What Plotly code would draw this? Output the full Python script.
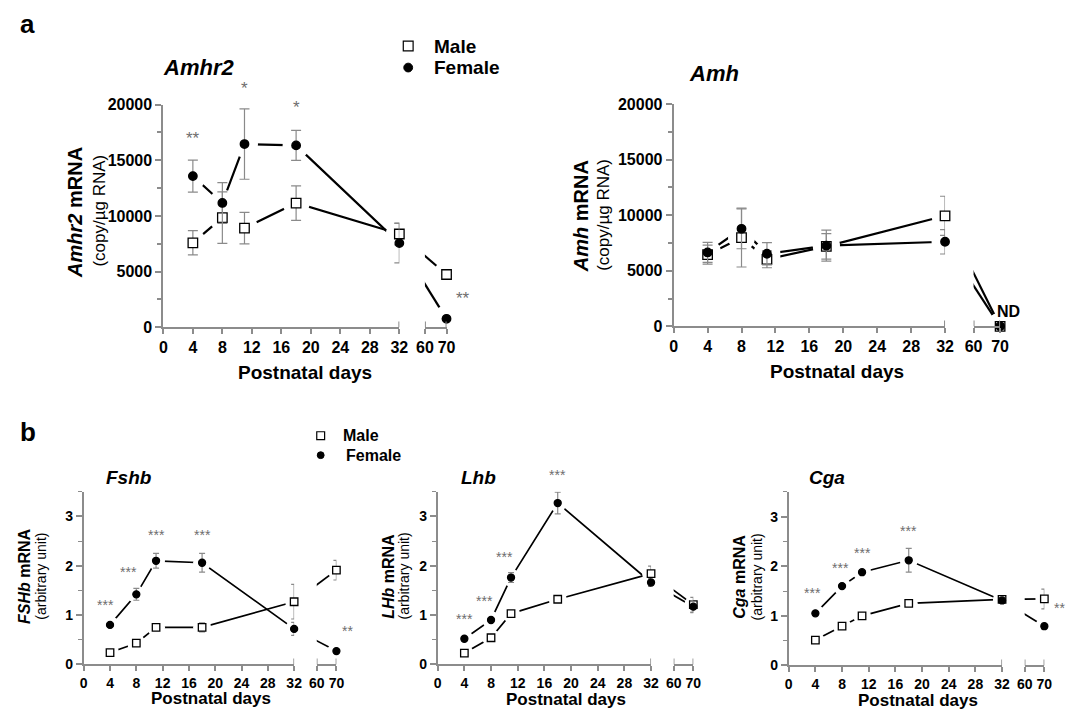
import plotly.graph_objects as go

W, H = 1074, 719
FONT = "Liberation Sans, Arial, sans-serif"
GREY = "#8c8c8c"
ERRC = "#8a8a8a"
STARC = "#6e6e6e"

# ---------------- data ----------------
days = [4, 8, 11, 18, 32, 70]
xticks_main = [0, 4, 8, 12, 16, 20, 24, 28, 32]
xticks_late = [60, 70]

amhr2_male = [7590, 9850, 8910, 11160, 8380, 4740]
amhr2_male_err = [1090, 2320, 1410, 1550, 970, 0]
amhr2_fem = [13580, 11170, 16460, 16340, 7560, 760]
amhr2_fem_err = [1440, 1830, 3160, 1350, 1770, 0]

amh_male = [6450, 7990, 6030, 7200, 9950, 0]
amh_male_err = [850, 2650, 760, 1150, 1760, 0]
amh_fem = [6650, 8780, 6530, 7260, 7610, 0]
amh_fem_err = [900, 1800, 1000, 1400, 1100, 0]

fshb_male = [0.24, 0.43, 0.75, 0.75, 1.27, 1.91]
fshb_male_err = [0, 0, 0.05, 0.09, 0.35, 0.20]
fshb_fem = [0.80, 1.42, 2.10, 2.06, 0.72, 0.27]
fshb_fem_err = [0, 0.12, 0.15, 0.19, 0.13, 0]

lhb_male = [0.23, 0.54, 1.03, 1.32, 1.84, 1.21]
lhb_male_err = [0, 0, 0, 0, 0.15, 0.15]
lhb_fem = [0.52, 0.90, 1.76, 3.27, 1.66, 1.17]
lhb_fem_err = [0, 0, 0.10, 0.22, 0.08, 0.12]

cga_male = [0.51, 0.79, 1.00, 1.25, 1.33, 1.34]
cga_male_err = [0, 0, 0, 0, 0.05, 0.20]
cga_fem = [1.05, 1.60, 1.88, 2.12, 1.31, 0.79]
cga_fem_err = [0, 0, 0, 0.24, 0.05, 0.06]

# significance marks (on female series): day, text
amhr2_stars = [(4, "**"), (11, "*"), (18, "*"), (70, "**")]
amh_stars = []
fshb_stars = [(4, "***"), (8, "***"), (11, "***"), (18, "***"), (70, "**")]
lhb_stars = [(4, "***"), (8, "***"), (11, "***"), (18, "***")]
cga_stars = [(4, "***"), (8, "***"), (11, "***"), (18, "***"), (70, "**")]

# ---------------- panel geometry (pixels) ----------------
panels = [
    dict(male=amhr2_male, male_err=amhr2_male_err, fem=amhr2_fem, fem_err=amhr2_fem_err,
         stars=amhr2_stars, star_off=[(0, 10), (0, 9), (0, 11), (7, 9)],
         ymax=20000, dtick=5000, minor=2500,
         px_y=157, px32=397, px60=423, px70=445, py0=327, pytop=99, big=True,
         title="<i>Amhr2</i>", title_xy=(193, 61),
         ylab1="<b><i>Amhr2</i> mRNA</b>", ylab1_xy=(67, 209),
         ylab2="(copy/µg RNA)", ylab2_xy=(92, 207),
         xlab_xy=(301, 373)),
    dict(male=amh_male, male_err=amh_male_err, fem=amh_fem, fem_err=amh_fem_err,
         stars=amh_stars, star_off=[],
         ymax=20000, dtick=5000, minor=2500,
         px_y=676, px32=952, px60=981, px70=1008, py0=326, pytop=98.5, big=True,
         title="<i>Amh</i>", title_xy=(717, 67),
         ylab1="<b><i>Amh</i> mRNA</b>", ylab1_xy=(582, 213),
         ylab2="(copy/µg RNA)", ylab2_xy=(605, 212),
         xlab_xy=(842, 372)),
    dict(male=fshb_male, male_err=fshb_male_err, fem=fshb_fem, fem_err=fshb_fem_err,
         stars=fshb_stars, star_off=[(-5, 10), (-8, 6), (0, 8), (0, 8), (4, 10)],
         ymax=3.5, dtick=1, minor=0.5,
         px_y=76, px32=290, px60=313, px70=333, py0=672.3, pytop=495.4, big=False,
         title="<i>Fshb</i>", title_xy=(122, 481),
         ylab1="<b><i>FSHb</i> mRNA</b>", ylab1_xy=(16, 582),
         ylab2="(arbitrary unit)", ylab2_xy=(33, 582),
         xlab_xy=(205, 707)),
    dict(male=lhb_male, male_err=lhb_male_err, fem=lhb_fem, fem_err=lhb_fem_err,
         stars=lhb_stars, star_off=[(0, 10), (-7, 9), (-7, 6), (0, 7)],
         ymax=3.5, dtick=1, minor=0.5,
         px_y=436, px32=653, px60=676, px70=696, py0=672.3, pytop=495.4, big=False,
         title="<i>Lhb</i>", title_xy=(477, 481),
         ylab1="<b><i>LHb</i> mRNA</b>", ylab1_xy=(386, 582),
         ylab2="(arbitrary unit)", ylab2_xy=(402, 582),
         xlab_xy=(566, 708)),
    dict(male=cga_male, male_err=cga_male_err, fem=cga_fem, fem_err=cga_fem_err,
         stars=cga_stars, star_off=[(-3, 10), (-2, 8), (0, 9), (0, 7), (8, 5)],
         ymax=3.5, dtick=1, minor=0.5,
         px_y=793, px32=1010, px60=1033, px70=1053, py0=673.3, pytop=495.6, big=False,
         title="<i>Cga</i>", title_xy=(832, 481),
         ylab1="<b><i>Cga</i> mRNA</b>", ylab1_xy=(743, 583),
         ylab2="(arbitrary unit)", ylab2_xy=(761, 583),
         xlab_xy=(924, 709)),
]


def px2x(px):
    return px / W


def px2y(py):
    return 1 - py / H


def xname(n):
    return "x" if n == 1 else f"x{n}"


def yname(n):
    return "y" if n == 1 else f"y{n}"


def xkey(n):
    return "xaxis" if n == 1 else f"xaxis{n}"


def ykey(n):
    return "yaxis" if n == 1 else f"yaxis{n}"


fig = go.Figure()
layout = {}
shapes = []
annotations = []

for i, p in enumerate(panels):
    nm, nr, ny = 2 * i + 1, 2 * i + 2, i + 1
    big = p["big"]
    lw_ax = 2 if big else 1.6
    lw_line = 2.2 if big else 1.7
    sq_size = 9.5 if big else 7.5
    ci_size = 8.5 if big else 7
    halo = 27 if big else 18
    capw = 5 if big else 3
    tick_size = 16 if big else 14
    ydom = [px2y(p["py0"]), px2y(p["pytop"])]
    ypx_h = p["py0"] - p["pytop"]

    tickfont = dict(family=FONT, size=tick_size, color="black", weight=700)
    layout[xkey(nm)] = dict(domain=[px2x(p["px_y"]), px2x(p["px32"])], range=[0, 32],
                            anchor=yname(ny), tickmode="array", tickvals=xticks_main,
                            ticks="outside", ticklen=5, tickwidth=lw_ax, tickcolor=GREY,
                            showline=True, linecolor=GREY, linewidth=lw_ax,
                            showgrid=False, zeroline=False, tickfont=tickfont)
    layout[xkey(nr)] = dict(domain=[px2x(p["px60"]), px2x(p["px70"])], range=[60, 70],
                            anchor=yname(ny), tickmode="array", tickvals=xticks_late,
                            ticks="outside", ticklen=5, tickwidth=lw_ax, tickcolor=GREY,
                            showline=True, linecolor=GREY, linewidth=lw_ax,
                            showgrid=False, zeroline=False, tickfont=tickfont)
    layout[ykey(ny)] = dict(domain=ydom, range=[0, p["ymax"]], anchor=xname(nm),
                            tick0=0, dtick=p["dtick"], tickformat="d" if big else "",
                            ticks="outside", ticklen=6, tickwidth=lw_ax, tickcolor=GREY,
                            showline=True, linecolor=GREY, linewidth=lw_ax,
                            showgrid=False, zeroline=False, tickfont=tickfont,
                            minor=dict(dtick=p["minor"], tick0=0, ticks="outside", ticklen=4,
                                       tickwidth=lw_ax * 0.8, tickcolor=GREY, showgrid=False))

    cap_up = 6 / ypx_h
    for xr, xv in [(xname(nm), 32), (xname(nr), 60), (xname(nr), 70)]:
        shapes.append(dict(type="line", xref=xr, yref=f"{yname(ny)} domain",
                           x0=xv, x1=xv, y0=0, y1=cap_up,
                           line=dict(color=GREY, width=lw_ax)))

    # virtual position of day 32 in the right-segment axis coordinates
    x32_virtual = 60 - (p["px60"] - p["px32"]) * 10 / (p["px70"] - p["px60"])

    series = [
        ("male", p["male"], p["male_err"], "square", "white", sq_size),
        ("fem", p["fem"], p["fem_err"], "circle", "black", ci_size),
    ]
    for xa, sl in [(xname(nm), slice(0, 5)), (xname(nr), slice(5, 6))]:
        for _, vals, errs, sym, fill, sz in series:
            if xa == xname(nm):
                lx, ly = days[0:5], vals[0:5]
            else:
                lx, ly = [x32_virtual, days[5]], [vals[4], vals[5]]
            fig.add_trace(go.Scatter(x=lx, y=ly, xaxis=xa, yaxis=yname(ny), mode="lines",
                                     line=dict(color="black", width=lw_line),
                                     showlegend=False, hoverinfo="skip"))
        for _, vals, errs, sym, fill, sz in series:
            fig.add_trace(go.Scatter(x=days[sl], y=vals[sl], xaxis=xa, yaxis=yname(ny),
                                     mode="markers", cliponaxis=False,
                                     marker=dict(symbol="circle", size=halo, color="white",
                                                 line=dict(width=0)),
                                     showlegend=False, hoverinfo="skip"))
        for _, vals, errs, sym, fill, sz in series:
            fig.add_trace(go.Scatter(x=days[sl], y=vals[sl], xaxis=xa, yaxis=yname(ny),
                                     mode="markers", cliponaxis=False,
                                     error_y=dict(type="data", array=errs[sl], visible=True,
                                                  color=ERRC, thickness=1.2, width=capw),
                                     marker=dict(symbol=sym, size=sz, color=fill,
                                                 line=dict(color="black", width=1.3)),
                                     showlegend=False, hoverinfo="skip"))

    for (d, txt), (dx, dy) in zip(p["stars"], p["star_off"]):
        k = days.index(d)
        xr = xname(nm) if d <= 32 else xname(nr)
        annotations.append(dict(x=d, y=p["fem"][k] + p["fem_err"][k], xref=xr, yref=yname(ny),
                                text=txt, showarrow=False, xshift=dx, yshift=dy,
                                xanchor="left" if d == 70 else "center", yanchor="bottom",
                                font=dict(family=FONT, size=17 if big else 14, color=STARC)))

    annotations.append(dict(x=px2x(p["title_xy"][0]), y=px2y(p["title_xy"][1]), xref="paper",
                            yref="paper", text=f"<b>{p['title']}</b>", showarrow=False,
                            xanchor="center", yanchor="middle",
                            font=dict(family=FONT, size=22 if big else 19, color="black")))
    annotations.append(dict(x=px2x(p["ylab1_xy"][0]), y=px2y(p["ylab1_xy"][1]), xref="paper",
                            yref="paper", text=p["ylab1"], showarrow=False, textangle=-90,
                            xanchor="center", yanchor="middle",
                            font=dict(family=FONT, size=20 if big else 16, color="black")))
    annotations.append(dict(x=px2x(p["ylab2_xy"][0]), y=px2y(p["ylab2_xy"][1]), xref="paper",
                            yref="paper", text=p["ylab2"], showarrow=False, textangle=-90,
                            xanchor="center", yanchor="middle",
                            font=dict(family=FONT, size=17 if big else 14, color="black")))
    annotations.append(dict(x=px2x(p["xlab_xy"][0]), y=px2y(p["xlab_xy"][1]), xref="paper",
                            yref="paper", text="<b>Postnatal days</b>", showarrow=False,
                            xanchor="center", yanchor="middle",
                            font=dict(family=FONT, size=19 if big else 17, color="black")))

annotations.append(dict(x=px2x(1017), y=px2y(311), xref="paper", yref="paper", text="<b>ND</b>",
                        showarrow=False, xanchor="center", yanchor="middle",
                        font=dict(family=FONT, size=16, color="black")))

for txt, (px, py) in [("a", (19, 16)), ("b", (19, 434))]:
    annotations.append(dict(x=px2x(px), y=px2y(py), xref="paper", yref="paper",
                            text=f"<b>{txt}</b>", showarrow=False, xanchor="center",
                            yanchor="middle", font=dict(family=FONT, size=26, color="black")))

for (sqx, sqy, cy, tx_m, tx_f, half_s, r, fs) in [
    (406, 39, 61, 430, 430, 5, 4.5, 19),
    (317, 438, 458, 338, 341, 4, 3.5, 16),
]:
    shapes.append(dict(type="rect", xref="paper", yref="paper",
                       x0=px2x(sqx - half_s), x1=px2x(sqx + half_s),
                       y0=px2y(sqy + half_s), y1=px2y(sqy - half_s),
                       line=dict(color="black", width=1.2), fillcolor="white"))
    shapes.append(dict(type="circle", xref="paper", yref="paper",
                       x0=px2x(sqx - r), x1=px2x(sqx + r), y0=px2y(cy + r), y1=px2y(cy - r),
                       line=dict(color="black", width=1), fillcolor="black"))
    annotations.append(dict(x=px2x(tx_m), y=px2y(sqy), xref="paper", yref="paper",
                            text="<b>Male</b>", showarrow=False, xanchor="left",
                            yanchor="middle", font=dict(family=FONT, size=fs, color="black")))
    annotations.append(dict(x=px2x(tx_f), y=px2y(cy), xref="paper", yref="paper",
                            text="<b>Female</b>", showarrow=False, xanchor="left",
                            yanchor="middle", font=dict(family=FONT, size=fs, color="black")))

fig.update_layout(width=W, height=H, margin=dict(l=0, r=0, t=0, b=0),
                  paper_bgcolor="white", plot_bgcolor="white", showlegend=False,
                  shapes=shapes, annotations=annotations, **layout)

fig.write_html("out.html", config={"displayModeBar": False},
               post_script="document.body.style.margin='0';document.body.style.overflow='hidden';")
